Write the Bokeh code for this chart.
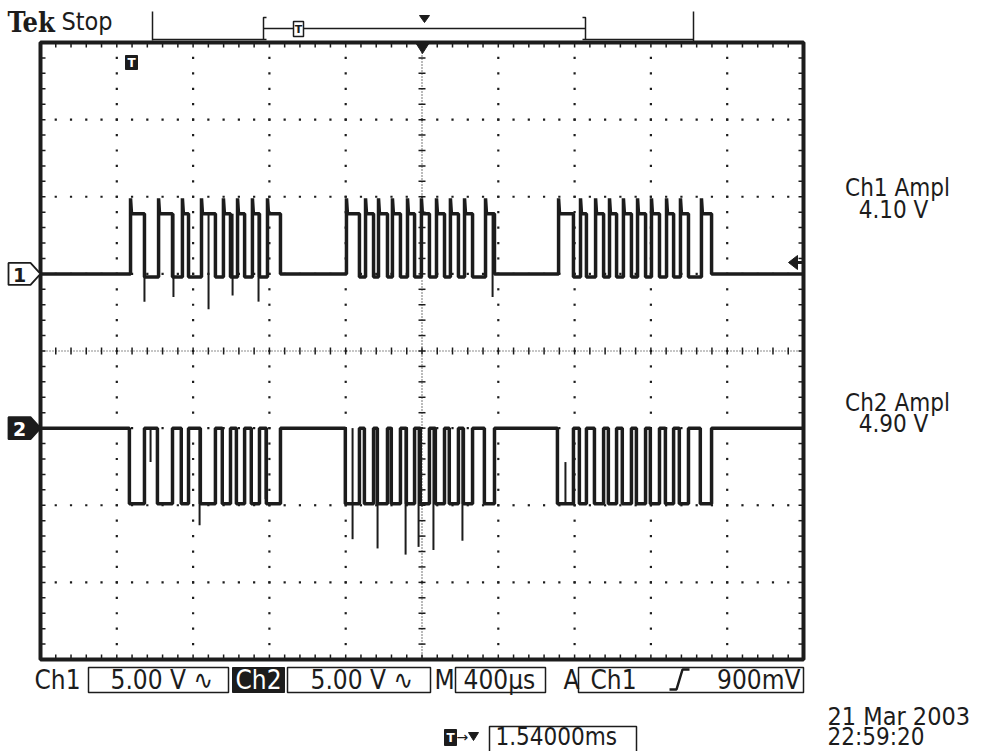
import numpy as np
from bokeh.plotting import figure
from bokeh.models import Range1d
from bokeh.core.properties import value
from bokeh.embed import file_html
from bokeh.resources import INLINE

# ---- acquisition settings -------------------------------------------------
US_PER_DIV = 400.0          # M 400us
V_PER_DIV = 5.0             # Ch1 / Ch2 5.00 V
N_XDIV, N_YDIV = 10, 8
CH1_POS_DIV = 1.0           # ground marker of Ch1, divisions above centre
CH2_POS_DIV = -1.0          # ground marker of Ch2

# ---- waveform data (time in us from left edge of the screen) --------------
# Ch1: TTL-side serial bursts, (start, end) of each high pulse
ch1_pulse_start = [472, 619, 744, 844, 959, 1033, 1111, 1190,
                   1604, 1704, 1772, 1845, 1924, 1997, 2076, 2149, 2223, 2333,
                   2716, 2831, 2910, 2983, 3056, 3130, 3203, 3282, 3355, 3465]
ch1_pulse_end = [545, 692, 776, 917, 996, 1070, 1148, 1258,
                 1672, 1746, 1819, 1887, 1961, 2039, 2118, 2191, 2265, 2380,
                 2794, 2862, 2952, 3020, 3098, 3172, 3245, 3319, 3397, 3518]
# Ch2: the inverted line, (start, end) of each low pulse
ch2_pulse_start = [466, 613, 738, 838, 953, 1027, 1105, 1184,
                   1598, 1698, 1766, 1839, 1918, 1991, 2070, 2143, 2217, 2327,
                   2710, 2825, 2904, 2977, 3050, 3124, 3197, 3276, 3349, 3459]
ch2_pulse_end = [545, 692, 776, 917, 996, 1070, 1148, 1258,
                 1672, 1746, 1819, 1887, 1961, 2039, 2118, 2191, 2265, 2380,
                 2794, 2862, 2952, 3020, 3098, 3172, 3245, 3319, 3397, 3518]

ch1_high_v = 3.9
ch1_low_v = -0.2            # low level inside a burst
ch1_overshoot_v = 4.9
ch2_low_v = -4.9

# ringing spikes at switching edges (time us, tip voltage)
ch1_spike_t = [545, 697, 881, 1007, 1143, 2370]
ch1_spike_v = [-1.8, -1.5, -2.3, -1.4, -1.8, -1.5]
ch2_spike_t = [834, 1636, 1767, 1914, 1982, 2060, 2212]
ch2_spike_v = [-6.3, -7.2, -7.8, -8.2, -7.7, -7.9, -7.3]
ch2_glitch_t = [577, 1180, 2752]
ch2_glitch_v = [-2.2, -4.6, -2.2]

# ---- readouts --------------------------------------------------------------
ch1_ampl = 4.10
ch2_ampl = 4.90
scale_labels = ["5.00 V \u223f", "5.00 V \u223f"]
time_label = "400\u00b5s"
trig_label = "900mV"
delay_label = "1.54000ms"
date_label = "21 Mar 2003"
time_of_day = "22:59:20"

# ---- screen geometry (pixels) ----------------------------------------------
W, H = 982, 751
GX0, GX1 = 40.0, 803.0      # graticule left / right
GY0, GY1 = 42.0, 659.0      # graticule top / bottom
px_per_us = (GX1 - GX0) / (N_XDIV * US_PER_DIV)
px_per_div_y = (GY1 - GY0) / N_YDIV
x_start = -GX0 / px_per_us
x_end = (W - GX0) / px_per_us
y_top = N_YDIV / 2 + GY0 / px_per_div_y
y_bot = -N_YDIV / 2 - (H - GY1) / px_per_div_y

p = figure(width=W, height=H, x_range=Range1d(x_start, x_end),
           y_range=Range1d(y_bot, y_top), min_border=0,
           toolbar_location=None, output_backend="svg",
           x_axis_type=None, y_axis_type=None)
p.outline_line_color = None
p.grid.visible = False
p.background_fill_color = "white"
p.border_fill_color = "white"

# per-channel voltage scales and a pixel overlay for the readout chrome
p.extra_y_ranges = {
    "ch1": Range1d((y_bot - CH1_POS_DIV) * V_PER_DIV, (y_top - CH1_POS_DIV) * V_PER_DIV),
    "ch2": Range1d((y_bot - CH2_POS_DIV) * V_PER_DIV, (y_top - CH2_POS_DIV) * V_PER_DIV),
    "py": Range1d(H, 0),
}
p.extra_x_ranges = {"px": Range1d(0, W)}

INK = "#1c1c1c"
FONT = "DejaVu Sans Condensed"

# ---- graticule -------------------------------------------------------------
half_x = N_XDIV * US_PER_DIV
xmid = half_x / 2
minor_x = np.arange(US_PER_DIV / 5, half_x, US_PER_DIV / 5)
minor_y = np.arange(-N_YDIV / 2 + 0.2, N_YDIV / 2 - 0.1, 0.2)

dx, dy = [], []
for k in range(-3, 4):
    if k == 0:
        continue
    dx += list(minor_x)
    dy += [k] * len(minor_x)
for k in range(1, N_XDIV):
    if k == N_XDIV // 2:
        continue
    dx += [k * US_PER_DIV] * len(minor_y)
    dy += list(minor_y)
p.scatter(dx, dy, marker="square", size=2.2, color=INK, line_width=0)

# centre cross with minor ticks
p.line([0, half_x], [0, 0], line_color=INK, line_width=1.2, line_dash="1 2")
p.line([xmid, xmid], [-N_YDIV / 2, N_YDIV / 2], line_color=INK, line_width=1.2, line_dash="1 2")
tick_y = 3.5 / px_per_div_y
tick_x = 3.5 / px_per_us
p.segment(minor_x, -tick_y, minor_x, tick_y, line_color=INK, line_width=1.5)
p.segment(xmid - tick_x, minor_y, xmid + tick_x, minor_y, line_color=INK, line_width=1.5)

# border minor ticks
edge_y = 5 / px_per_div_y
edge_x = 5 / px_per_us
top = N_YDIV / 2
p.segment(minor_x, top, minor_x, top - edge_y, line_color=INK, line_width=1.5)
p.segment(minor_x, -top, minor_x, -top + edge_y, line_color=INK, line_width=1.5)
p.segment(0, minor_y, edge_x, minor_y, line_color=INK, line_width=1.5)
p.segment(half_x - edge_x, minor_y, half_x, minor_y, line_color=INK, line_width=1.5)

p.quad(left=0, right=half_x, bottom=-top, top=top, fill_color=None,
       line_color=INK, line_width=4)


# ---- traces ----------------------------------------------------------------
def step_trace(starts, ends, on, between, idle, overshoot=None, burst_gap=200):
    xs, ys = [0.0], [idle]
    n = len(starts)
    for i in range(n):
        a, b = starts[i], ends[i]
        before = idle if (i == 0 or a - ends[i - 1] > burst_gap) else between
        after = idle if (i == n - 1 or starts[i + 1] - b > burst_gap) else between
        xs += [a, a]
        ys += [before, on if overshoot is None else overshoot]
        if overshoot is not None:
            xs.append(a + 5)
            ys.append(on)
        xs += [b, b]
        ys += [on, after]
    xs.append(half_x)
    ys.append(idle)
    return xs, ys


def level_at(t, starts, ends, on, off):
    return on if any(a <= t <= b for a, b in zip(starts, ends)) else off


x1, y1 = step_trace(ch1_pulse_start, ch1_pulse_end, ch1_high_v, ch1_low_v, 0.0,
                    overshoot=ch1_overshoot_v)
x2, y2 = step_trace(ch2_pulse_start, ch2_pulse_end, ch2_low_v, 0.0, 0.0)

p.line(x1, y1, y_range_name="ch1", line_color=INK, line_width=3.5)
p.line(x2, y2, y_range_name="ch2", line_color=INK, line_width=3.5)
p.segment(ch1_spike_t, [ch1_high_v] * len(ch1_spike_t), ch1_spike_t, ch1_spike_v,
          y_range_name="ch1", line_color=INK, line_width=2)
p.segment(ch2_spike_t, [0.0] * len(ch2_spike_t), ch2_spike_t, ch2_spike_v,
          y_range_name="ch2", line_color=INK, line_width=2)
g_from = [level_at(t, ch2_pulse_start, ch2_pulse_end, ch2_low_v, 0.0) for t in ch2_glitch_t]
p.segment(ch2_glitch_t, g_from, ch2_glitch_t, ch2_glitch_v,
          y_range_name="ch2", line_color=INK, line_width=2)


# ---- screen chrome, in pixel units ----------------------------------------
def txt(x, y, s, size=26, color=INK, font=FONT, style="normal", align="left"):
    p.text([x], [y], text=[s], x_range_name="px", y_range_name="py",
           text_font=value(font), text_font_size=value(f"{size}px"),
           text_font_style=style, text_color=color, text_baseline="middle",
           text_align=align)


def box(l, r, t, b, fill=None, lw=1.5):
    p.quad(left=l, right=r, top=t, bottom=b, x_range_name="px", y_range_name="py",
           fill_color=fill, line_color=INK, line_width=lw)


def pline(xs, ys, lw=1.5):
    p.line(xs, ys, x_range_name="px", y_range_name="py", line_color=INK, line_width=lw)


def ppatch(xs, ys, fill, lw=1.5):
    p.patch(xs, ys, x_range_name="px", y_range_name="py", fill_color=fill,
            line_color=INK, line_width=lw)


# status line and record view
txt(7, 22, "Tek", size=27, style="bold", font="DejaVu Serif Condensed")
txt(61, 21, "Stop", size=25)
pline([152, 152], [11, 40], lw=1.5)
pline([693, 693], [11, 42], lw=1.5)
pline([152, 263], [39, 39], lw=1.5)
pline([585, 693], [39, 39], lw=1.5)
pline([266, 263, 263, 266], [17, 17, 39, 39], lw=1.5)
pline([582, 585, 585, 582], [17, 17, 39, 39], lw=1.5)
pline([263, 585], [28, 28], lw=1.5)
box(293, 303, 21, 36, fill="white", lw=1.5)
txt(298, 29, "T", size=11, style="bold", font="DejaVu Sans", align="center")
ppatch([419, 429, 424], [15, 15, 22], fill=INK, lw=1)

# trigger position marker on the top edge
ppatch([415, 429, 422], [42, 42, 53], fill=INK, lw=1)

# trigger point icon
box(125, 137, 55, 69, fill=INK, lw=1)
txt(131, 62, "T", size=12, color="white", style="bold", font="DejaVu Sans", align="center")

# channel ground markers
ch1_y = GY0 + (N_YDIV / 2 - CH1_POS_DIV) * px_per_div_y
ch2_y = GY0 + (N_YDIV / 2 - CH2_POS_DIV) * px_per_div_y
ppatch([8, 30, 40, 30, 8], [ch1_y - 11, ch1_y - 11, ch1_y, ch1_y + 11, ch1_y + 11],
       fill="white", lw=1.8)
txt(19, ch1_y + 1, "1", size=19, style="bold", font="DejaVu Sans", align="center")
ppatch([8, 30, 40, 30, 8], [ch2_y - 11, ch2_y - 11, ch2_y, ch2_y + 11, ch2_y + 11],
       fill=INK, lw=1.8)
txt(19, ch2_y + 1, "2", size=19, color="white", style="bold", font="DejaVu Sans", align="center")

# trigger level arrow on the right edge
ppatch([788, 797, 797], [262, 255, 269], fill=INK, lw=1)
pline([795, 803], [262, 262], lw=3)

# measurement readouts
txt(897, 187, "Ch1 Ampl", size=24, align="center")
txt(893, 209, f"{ch1_ampl:.2f} V", size=24, align="center")
txt(897, 402, "Ch2 Ampl", size=24, align="center")
txt(893, 423, f"{ch2_ampl:.2f} V", size=24, align="center")

# vertical / horizontal / trigger settings row
txt(34, 679, "Ch1", size=26)
box(88, 228, 667, 692)
txt(110, 679, scale_labels[0], size=26)
box(232, 284, 667, 692, fill=INK, lw=1)
txt(235, 679, "Ch2", size=26, color="white")
box(287, 430, 667, 692)
txt(310, 679, scale_labels[1], size=26)
txt(434, 679, "M", size=26)
box(455, 545, 667, 692)
txt(463, 679, time_label, size=26)
txt(563, 679, "A", size=26)
box(578, 803, 667, 692)
txt(590, 679, "Ch1", size=26)
pline([669, 676, 682, 689], [689, 689, 669, 669], lw=2.5)
txt(800, 679, trig_label, size=26, align="right")

# trigger delay
box(444, 456, 729, 745, fill=INK, lw=1)
txt(450, 737, "T", size=12, color="white", style="bold", font="DejaVu Sans", align="center")
txt(456, 736, "\u2192", size=14, font="DejaVu Sans")
ppatch([468, 478, 473], [732, 732, 740], fill=INK, lw=1)
box(489, 636, 726, 753)
txt(495, 736, delay_label, size=24)

# date / time stamp
txt(827, 716, date_label, size=25)
txt(827, 736, time_of_day, size=24)

open("out.html", "w").write(file_html(p, INLINE))
